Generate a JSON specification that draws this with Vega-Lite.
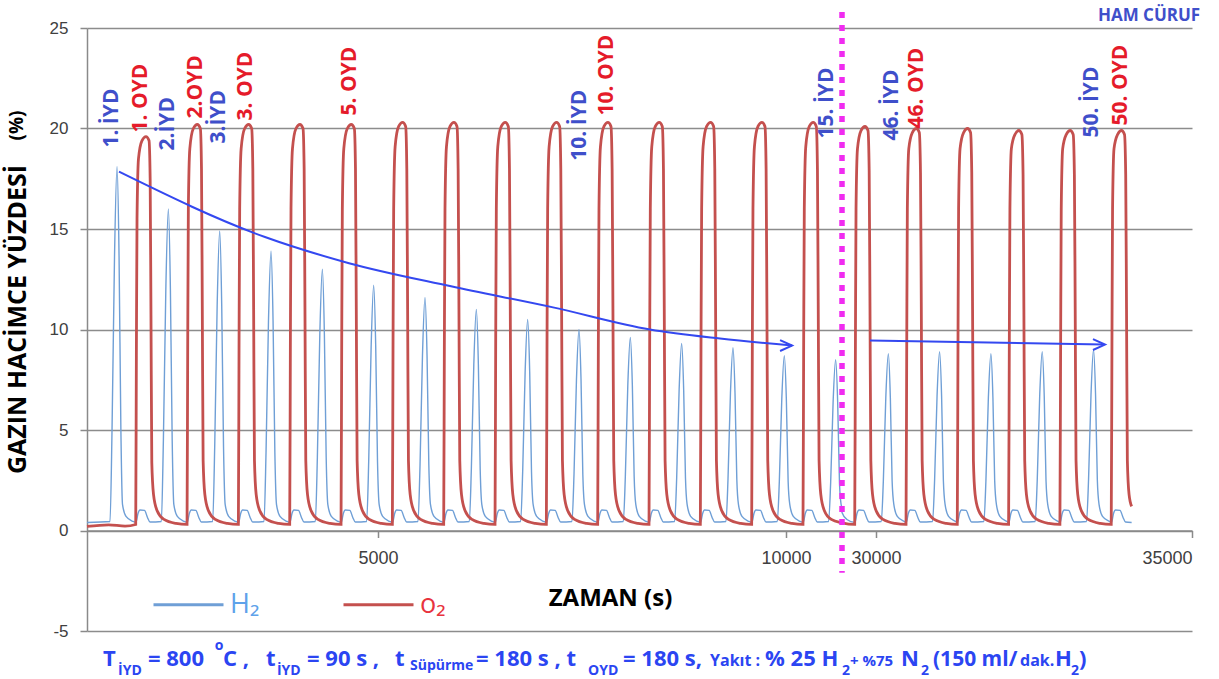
{
"$schema": "https://vega.github.io/schema/vega-lite/v6.json",
"width": 1105, "height": 603,
"autosize": {"type": "none"},
"padding": {"left": 87, "top": 28, "right": 27, "bottom": 48},
"background": "white",
"config": {"view": {"stroke": null}, "font": "Open Sans"},
"layer": [
{
"data": {"values": [
{"s":"H₂","t":1434,"v":0.4},
{"s":"H₂","t":1716,"v":0.45},{"s":"H₂","t":1741,"v":5.07},{"s":"H₂","t":1771,"v":13.58},{"s":"H₂","t":1802,"v":18.1},{"s":"H₂","t":1827,"v":13.58},{"s":"H₂","t":1849,"v":5.07},{"s":"H₂","t":1869,"v":1.3},{"s":"H₂","t":1912,"v":0.7},{"s":"H₂","t":1998,"v":0.45},
{"s":"H₂","t":2034,"v":0.4},{"s":"H₂","t":2059,"v":0.85},{"s":"H₂","t":2083,"v":1.02},{"s":"H₂","t":2139,"v":1.0},{"s":"H₂","t":2175,"v":0.65},{"s":"H₂","t":2206,"v":0.42},
{"s":"H₂","t":2345,"v":0.45},{"s":"H₂","t":2370,"v":4.48},{"s":"H₂","t":2400,"v":12.0},{"s":"H₂","t":2431,"v":16.0},{"s":"H₂","t":2456,"v":12.0},{"s":"H₂","t":2478,"v":4.48},{"s":"H₂","t":2498,"v":1.3},{"s":"H₂","t":2541,"v":0.7},{"s":"H₂","t":2627,"v":0.45},
{"s":"H₂","t":2663,"v":0.4},{"s":"H₂","t":2688,"v":0.85},{"s":"H₂","t":2712,"v":1.02},{"s":"H₂","t":2768,"v":1.0},{"s":"H₂","t":2804,"v":0.65},{"s":"H₂","t":2835,"v":0.42},
{"s":"H₂","t":2974,"v":0.45},{"s":"H₂","t":2999,"v":4.17},{"s":"H₂","t":3029,"v":11.18},{"s":"H₂","t":3060,"v":14.9},{"s":"H₂","t":3085,"v":11.18},{"s":"H₂","t":3107,"v":4.17},{"s":"H₂","t":3127,"v":1.3},{"s":"H₂","t":3170,"v":0.7},{"s":"H₂","t":3256,"v":0.45},
{"s":"H₂","t":3292,"v":0.4},{"s":"H₂","t":3317,"v":0.85},{"s":"H₂","t":3341,"v":1.02},{"s":"H₂","t":3397,"v":1.0},{"s":"H₂","t":3433,"v":0.65},{"s":"H₂","t":3464,"v":0.42},
{"s":"H₂","t":3603,"v":0.45},{"s":"H₂","t":3628,"v":3.89},{"s":"H₂","t":3658,"v":10.43},{"s":"H₂","t":3689,"v":13.9},{"s":"H₂","t":3714,"v":10.43},{"s":"H₂","t":3736,"v":3.89},{"s":"H₂","t":3756,"v":1.3},{"s":"H₂","t":3799,"v":0.7},{"s":"H₂","t":3885,"v":0.45},
{"s":"H₂","t":3921,"v":0.4},{"s":"H₂","t":3946,"v":0.85},{"s":"H₂","t":3970,"v":1.02},{"s":"H₂","t":4026,"v":1.0},{"s":"H₂","t":4062,"v":0.65},{"s":"H₂","t":4093,"v":0.42},
{"s":"H₂","t":4232,"v":0.45},{"s":"H₂","t":4257,"v":3.64},{"s":"H₂","t":4287,"v":9.75},{"s":"H₂","t":4318,"v":13.0},{"s":"H₂","t":4343,"v":9.75},{"s":"H₂","t":4365,"v":3.64},{"s":"H₂","t":4385,"v":1.3},{"s":"H₂","t":4428,"v":0.7},{"s":"H₂","t":4514,"v":0.45},
{"s":"H₂","t":4550,"v":0.4},{"s":"H₂","t":4575,"v":0.85},{"s":"H₂","t":4599,"v":1.02},{"s":"H₂","t":4655,"v":1.0},{"s":"H₂","t":4691,"v":0.65},{"s":"H₂","t":4722,"v":0.42},
{"s":"H₂","t":4861,"v":0.45},{"s":"H₂","t":4886,"v":3.42},{"s":"H₂","t":4916,"v":9.15},{"s":"H₂","t":4947,"v":12.2},{"s":"H₂","t":4972,"v":9.15},{"s":"H₂","t":4994,"v":3.42},{"s":"H₂","t":5014,"v":1.3},{"s":"H₂","t":5057,"v":0.7},{"s":"H₂","t":5143,"v":0.45},
{"s":"H₂","t":5179,"v":0.4},{"s":"H₂","t":5204,"v":0.85},{"s":"H₂","t":5228,"v":1.02},{"s":"H₂","t":5284,"v":1.0},{"s":"H₂","t":5320,"v":0.65},{"s":"H₂","t":5351,"v":0.42},
{"s":"H₂","t":5490,"v":0.45},{"s":"H₂","t":5515,"v":3.25},{"s":"H₂","t":5545,"v":8.7},{"s":"H₂","t":5576,"v":11.6},{"s":"H₂","t":5601,"v":8.7},{"s":"H₂","t":5623,"v":3.25},{"s":"H₂","t":5643,"v":1.3},{"s":"H₂","t":5686,"v":0.7},{"s":"H₂","t":5772,"v":0.45},
{"s":"H₂","t":5808,"v":0.4},{"s":"H₂","t":5833,"v":0.85},{"s":"H₂","t":5857,"v":1.02},{"s":"H₂","t":5913,"v":1.0},{"s":"H₂","t":5949,"v":0.65},{"s":"H₂","t":5980,"v":0.42},
{"s":"H₂","t":6119,"v":0.45},{"s":"H₂","t":6144,"v":3.08},{"s":"H₂","t":6174,"v":8.25},{"s":"H₂","t":6205,"v":11.0},{"s":"H₂","t":6230,"v":8.25},{"s":"H₂","t":6252,"v":3.08},{"s":"H₂","t":6272,"v":1.3},{"s":"H₂","t":6315,"v":0.7},{"s":"H₂","t":6401,"v":0.45},
{"s":"H₂","t":6437,"v":0.4},{"s":"H₂","t":6462,"v":0.85},{"s":"H₂","t":6486,"v":1.02},{"s":"H₂","t":6542,"v":1.0},{"s":"H₂","t":6578,"v":0.65},{"s":"H₂","t":6609,"v":0.42},
{"s":"H₂","t":6748,"v":0.45},{"s":"H₂","t":6773,"v":2.94},{"s":"H₂","t":6803,"v":7.88},{"s":"H₂","t":6834,"v":10.5},{"s":"H₂","t":6859,"v":7.88},{"s":"H₂","t":6881,"v":2.94},{"s":"H₂","t":6901,"v":1.3},{"s":"H₂","t":6944,"v":0.7},{"s":"H₂","t":7030,"v":0.45},
{"s":"H₂","t":7066,"v":0.4},{"s":"H₂","t":7091,"v":0.85},{"s":"H₂","t":7115,"v":1.02},{"s":"H₂","t":7171,"v":1.0},{"s":"H₂","t":7207,"v":0.65},{"s":"H₂","t":7238,"v":0.42},
{"s":"H₂","t":7377,"v":0.45},{"s":"H₂","t":7402,"v":2.8},{"s":"H₂","t":7432,"v":7.5},{"s":"H₂","t":7463,"v":10.0},{"s":"H₂","t":7488,"v":7.5},{"s":"H₂","t":7510,"v":2.8},{"s":"H₂","t":7530,"v":1.3},{"s":"H₂","t":7573,"v":0.7},{"s":"H₂","t":7659,"v":0.45},
{"s":"H₂","t":7695,"v":0.4},{"s":"H₂","t":7720,"v":0.85},{"s":"H₂","t":7744,"v":1.02},{"s":"H₂","t":7800,"v":1.0},{"s":"H₂","t":7836,"v":0.65},{"s":"H₂","t":7867,"v":0.42},
{"s":"H₂","t":8006,"v":0.45},{"s":"H₂","t":8031,"v":2.69},{"s":"H₂","t":8061,"v":7.2},{"s":"H₂","t":8092,"v":9.6},{"s":"H₂","t":8117,"v":7.2},{"s":"H₂","t":8139,"v":2.69},{"s":"H₂","t":8159,"v":1.3},{"s":"H₂","t":8202,"v":0.7},{"s":"H₂","t":8288,"v":0.45},
{"s":"H₂","t":8324,"v":0.4},{"s":"H₂","t":8349,"v":0.85},{"s":"H₂","t":8373,"v":1.02},{"s":"H₂","t":8429,"v":1.0},{"s":"H₂","t":8465,"v":0.65},{"s":"H₂","t":8496,"v":0.42},
{"s":"H₂","t":8635,"v":0.45},{"s":"H₂","t":8660,"v":2.6},{"s":"H₂","t":8690,"v":6.98},{"s":"H₂","t":8721,"v":9.3},{"s":"H₂","t":8746,"v":6.98},{"s":"H₂","t":8768,"v":2.6},{"s":"H₂","t":8788,"v":1.3},{"s":"H₂","t":8831,"v":0.7},{"s":"H₂","t":8917,"v":0.45},
{"s":"H₂","t":8953,"v":0.4},{"s":"H₂","t":8978,"v":0.85},{"s":"H₂","t":9002,"v":1.02},{"s":"H₂","t":9058,"v":1.0},{"s":"H₂","t":9094,"v":0.65},{"s":"H₂","t":9125,"v":0.42},
{"s":"H₂","t":9264,"v":0.45},{"s":"H₂","t":9289,"v":2.55},{"s":"H₂","t":9319,"v":6.83},{"s":"H₂","t":9350,"v":9.1},{"s":"H₂","t":9375,"v":6.83},{"s":"H₂","t":9397,"v":2.55},{"s":"H₂","t":9417,"v":1.3},{"s":"H₂","t":9460,"v":0.7},{"s":"H₂","t":9546,"v":0.45},
{"s":"H₂","t":9582,"v":0.4},{"s":"H₂","t":9607,"v":0.85},{"s":"H₂","t":9631,"v":1.02},{"s":"H₂","t":9687,"v":1.0},{"s":"H₂","t":9723,"v":0.65},{"s":"H₂","t":9754,"v":0.42},
{"s":"H₂","t":9893,"v":0.45},{"s":"H₂","t":9918,"v":2.44},{"s":"H₂","t":9948,"v":6.53},{"s":"H₂","t":9979,"v":8.7},{"s":"H₂","t":10004,"v":6.53},{"s":"H₂","t":10026,"v":2.44},{"s":"H₂","t":10046,"v":1.3},{"s":"H₂","t":10089,"v":0.7},{"s":"H₂","t":10175,"v":0.45},
{"s":"H₂","t":10211,"v":0.4},{"s":"H₂","t":10236,"v":0.85},{"s":"H₂","t":10260,"v":1.02},{"s":"H₂","t":10316,"v":1.0},{"s":"H₂","t":10352,"v":0.65},{"s":"H₂","t":10383,"v":0.42},
{"s":"H₂","t":10522,"v":0.45},{"s":"H₂","t":10547,"v":2.38},{"s":"H₂","t":10577,"v":6.38},{"s":"H₂","t":10608,"v":8.5},{"s":"H₂","t":10633,"v":6.38},{"s":"H₂","t":10655,"v":2.38},{"s":"H₂","t":10675,"v":1.3},{"s":"H₂","t":10686,"v":1.1},
{"s":"H₂","t":29462,"v":0.9},{"s":"H₂","t":29540,"v":0.55},
{"s":"H₂","t":29668,"v":0.4},{"s":"H₂","t":29699,"v":0.85},{"s":"H₂","t":29731,"v":1.02},{"s":"H₂","t":29802,"v":1.0},{"s":"H₂","t":29850,"v":0.65},{"s":"H₂","t":29889,"v":0.42},
{"s":"H₂","t":30084,"v":0.45},{"s":"H₂","t":30116,"v":2.46},{"s":"H₂","t":30155,"v":6.6},{"s":"H₂","t":30195,"v":8.8},{"s":"H₂","t":30227,"v":6.6},{"s":"H₂","t":30255,"v":2.46},{"s":"H₂","t":30282,"v":1.3},{"s":"H₂","t":30337,"v":0.7},{"s":"H₂","t":30448,"v":0.45},
{"s":"H₂","t":30480,"v":0.4},{"s":"H₂","t":30511,"v":0.85},{"s":"H₂","t":30543,"v":1.02},{"s":"H₂","t":30614,"v":1.0},{"s":"H₂","t":30662,"v":0.65},{"s":"H₂","t":30701,"v":0.42},
{"s":"H₂","t":30895,"v":0.45},{"s":"H₂","t":30927,"v":2.49},{"s":"H₂","t":30966,"v":6.68},{"s":"H₂","t":31006,"v":8.9},{"s":"H₂","t":31038,"v":6.68},{"s":"H₂","t":31066,"v":2.49},{"s":"H₂","t":31093,"v":1.3},{"s":"H₂","t":31148,"v":0.7},{"s":"H₂","t":31259,"v":0.45},
{"s":"H₂","t":31291,"v":0.4},{"s":"H₂","t":31322,"v":0.85},{"s":"H₂","t":31354,"v":1.02},{"s":"H₂","t":31425,"v":1.0},{"s":"H₂","t":31473,"v":0.65},{"s":"H₂","t":31512,"v":0.42},
{"s":"H₂","t":31707,"v":0.45},{"s":"H₂","t":31739,"v":2.46},{"s":"H₂","t":31778,"v":6.6},{"s":"H₂","t":31818,"v":8.8},{"s":"H₂","t":31850,"v":6.6},{"s":"H₂","t":31878,"v":2.46},{"s":"H₂","t":31905,"v":1.3},{"s":"H₂","t":31960,"v":0.7},{"s":"H₂","t":32071,"v":0.45},
{"s":"H₂","t":32103,"v":0.4},{"s":"H₂","t":32134,"v":0.85},{"s":"H₂","t":32166,"v":1.02},{"s":"H₂","t":32237,"v":1.0},{"s":"H₂","t":32285,"v":0.65},{"s":"H₂","t":32324,"v":0.42},
{"s":"H₂","t":32519,"v":0.45},{"s":"H₂","t":32551,"v":2.49},{"s":"H₂","t":32590,"v":6.68},{"s":"H₂","t":32630,"v":8.9},{"s":"H₂","t":32662,"v":6.68},{"s":"H₂","t":32690,"v":2.49},{"s":"H₂","t":32717,"v":1.3},{"s":"H₂","t":32772,"v":0.7},{"s":"H₂","t":32883,"v":0.45},
{"s":"H₂","t":32915,"v":0.4},{"s":"H₂","t":32946,"v":0.85},{"s":"H₂","t":32978,"v":1.02},{"s":"H₂","t":33049,"v":1.0},{"s":"H₂","t":33097,"v":0.65},{"s":"H₂","t":33136,"v":0.42},
{"s":"H₂","t":33331,"v":0.45},{"s":"H₂","t":33363,"v":2.52},{"s":"H₂","t":33402,"v":6.75},{"s":"H₂","t":33442,"v":9.0},{"s":"H₂","t":33474,"v":6.75},{"s":"H₂","t":33502,"v":2.52},{"s":"H₂","t":33529,"v":1.3},{"s":"H₂","t":33584,"v":0.7},{"s":"H₂","t":33695,"v":0.45},
{"s":"H₂","t":33727,"v":0.4},{"s":"H₂","t":33758,"v":0.85},{"s":"H₂","t":33790,"v":1.02},{"s":"H₂","t":33861,"v":1.0},{"s":"H₂","t":33909,"v":0.65},{"s":"H₂","t":33948,"v":0.42},{"s":"H₂","t":34045,"v":0.4},

{"s":"o₂","t":1434,"v":0.2},{"s":"o₂","t":1700,"v":0.28},{"s":"o₂","t":1900,"v":0.22},
{"s":"o₂","t":2031,"v":0.3},{"s":"o₂","t":2039,"v":8.7},{"s":"o₂","t":2047,"v":15.5},{"s":"o₂","t":2065,"v":18.5},{"s":"o₂","t":2108,"v":19.4},{"s":"o₂","t":2157,"v":19.6},{"s":"o₂","t":2194,"v":19.4},{"s":"o₂","t":2208,"v":17.5},{"s":"o₂","t":2218,"v":10.7},{"s":"o₂","t":2228,"v":3.4},{"s":"o₂","t":2249,"v":1.8},{"s":"o₂","t":2292,"v":1.0},{"s":"o₂","t":2378,"v":0.55},{"s":"o₂","t":2525,"v":0.35},
{"s":"o₂","t":2660,"v":0.3},{"s":"o₂","t":2668,"v":9},{"s":"o₂","t":2676,"v":16},{"s":"o₂","t":2694,"v":19},{"s":"o₂","t":2737,"v":20.0},{"s":"o₂","t":2786,"v":20.2},{"s":"o₂","t":2823,"v":20.0},{"s":"o₂","t":2837,"v":18},{"s":"o₂","t":2847,"v":11},{"s":"o₂","t":2857,"v":3.5},{"s":"o₂","t":2878,"v":1.8},{"s":"o₂","t":2921,"v":1.0},{"s":"o₂","t":3007,"v":0.55},{"s":"o₂","t":3154,"v":0.35},
{"s":"o₂","t":3289,"v":0.3},{"s":"o₂","t":3297,"v":9},{"s":"o₂","t":3305,"v":16},{"s":"o₂","t":3323,"v":19},{"s":"o₂","t":3366,"v":20.0},{"s":"o₂","t":3415,"v":20.2},{"s":"o₂","t":3452,"v":20.0},{"s":"o₂","t":3466,"v":18},{"s":"o₂","t":3476,"v":11},{"s":"o₂","t":3486,"v":3.5},{"s":"o₂","t":3507,"v":1.8},{"s":"o₂","t":3550,"v":1.0},{"s":"o₂","t":3636,"v":0.55},{"s":"o₂","t":3783,"v":0.35},
{"s":"o₂","t":3918,"v":0.3},{"s":"o₂","t":3926,"v":9},{"s":"o₂","t":3934,"v":16},{"s":"o₂","t":3952,"v":19},{"s":"o₂","t":3995,"v":20.0},{"s":"o₂","t":4044,"v":20.2},{"s":"o₂","t":4081,"v":20.0},{"s":"o₂","t":4095,"v":18},{"s":"o₂","t":4105,"v":11},{"s":"o₂","t":4115,"v":3.5},{"s":"o₂","t":4136,"v":1.8},{"s":"o₂","t":4179,"v":1.0},{"s":"o₂","t":4265,"v":0.55},{"s":"o₂","t":4412,"v":0.35},
{"s":"o₂","t":4547,"v":0.3},{"s":"o₂","t":4555,"v":9},{"s":"o₂","t":4563,"v":16},{"s":"o₂","t":4581,"v":19},{"s":"o₂","t":4624,"v":20.0},{"s":"o₂","t":4673,"v":20.2},{"s":"o₂","t":4710,"v":20.0},{"s":"o₂","t":4724,"v":18},{"s":"o₂","t":4734,"v":11},{"s":"o₂","t":4744,"v":3.5},{"s":"o₂","t":4765,"v":1.8},{"s":"o₂","t":4808,"v":1.0},{"s":"o₂","t":4894,"v":0.55},{"s":"o₂","t":5041,"v":0.35},
{"s":"o₂","t":5176,"v":0.3},{"s":"o₂","t":5184,"v":9},{"s":"o₂","t":5192,"v":16},{"s":"o₂","t":5210,"v":19.1},{"s":"o₂","t":5253,"v":20.1},{"s":"o₂","t":5302,"v":20.3},{"s":"o₂","t":5339,"v":20.1},{"s":"o₂","t":5353,"v":18},{"s":"o₂","t":5363,"v":11},{"s":"o₂","t":5373,"v":3.5},{"s":"o₂","t":5394,"v":1.8},{"s":"o₂","t":5437,"v":1.0},{"s":"o₂","t":5523,"v":0.55},{"s":"o₂","t":5670,"v":0.35},
{"s":"o₂","t":5805,"v":0.3},{"s":"o₂","t":5813,"v":9},{"s":"o₂","t":5821,"v":16},{"s":"o₂","t":5839,"v":19.1},{"s":"o₂","t":5882,"v":20.1},{"s":"o₂","t":5931,"v":20.3},{"s":"o₂","t":5968,"v":20.1},{"s":"o₂","t":5982,"v":18},{"s":"o₂","t":5992,"v":11},{"s":"o₂","t":6002,"v":3.5},{"s":"o₂","t":6023,"v":1.8},{"s":"o₂","t":6066,"v":1.0},{"s":"o₂","t":6152,"v":0.55},{"s":"o₂","t":6299,"v":0.35},
{"s":"o₂","t":6434,"v":0.3},{"s":"o₂","t":6442,"v":9},{"s":"o₂","t":6450,"v":16},{"s":"o₂","t":6468,"v":19.1},{"s":"o₂","t":6511,"v":20.1},{"s":"o₂","t":6560,"v":20.3},{"s":"o₂","t":6597,"v":20.1},{"s":"o₂","t":6611,"v":18},{"s":"o₂","t":6621,"v":11},{"s":"o₂","t":6631,"v":3.5},{"s":"o₂","t":6652,"v":1.8},{"s":"o₂","t":6695,"v":1.0},{"s":"o₂","t":6781,"v":0.55},{"s":"o₂","t":6928,"v":0.35},
{"s":"o₂","t":7063,"v":0.3},{"s":"o₂","t":7071,"v":9},{"s":"o₂","t":7079,"v":16},{"s":"o₂","t":7097,"v":19.1},{"s":"o₂","t":7140,"v":20.1},{"s":"o₂","t":7189,"v":20.3},{"s":"o₂","t":7226,"v":20.1},{"s":"o₂","t":7240,"v":18},{"s":"o₂","t":7250,"v":11},{"s":"o₂","t":7260,"v":3.5},{"s":"o₂","t":7281,"v":1.8},{"s":"o₂","t":7324,"v":1.0},{"s":"o₂","t":7410,"v":0.55},{"s":"o₂","t":7557,"v":0.35},
{"s":"o₂","t":7692,"v":0.3},{"s":"o₂","t":7700,"v":9},{"s":"o₂","t":7708,"v":16},{"s":"o₂","t":7726,"v":19.1},{"s":"o₂","t":7769,"v":20.1},{"s":"o₂","t":7818,"v":20.3},{"s":"o₂","t":7855,"v":20.1},{"s":"o₂","t":7869,"v":18},{"s":"o₂","t":7879,"v":11},{"s":"o₂","t":7889,"v":3.5},{"s":"o₂","t":7910,"v":1.8},{"s":"o₂","t":7953,"v":1.0},{"s":"o₂","t":8039,"v":0.55},{"s":"o₂","t":8186,"v":0.35},
{"s":"o₂","t":8321,"v":0.3},{"s":"o₂","t":8329,"v":9},{"s":"o₂","t":8337,"v":16},{"s":"o₂","t":8355,"v":19.1},{"s":"o₂","t":8398,"v":20.1},{"s":"o₂","t":8447,"v":20.3},{"s":"o₂","t":8484,"v":20.1},{"s":"o₂","t":8498,"v":18},{"s":"o₂","t":8508,"v":11},{"s":"o₂","t":8518,"v":3.5},{"s":"o₂","t":8539,"v":1.8},{"s":"o₂","t":8582,"v":1.0},{"s":"o₂","t":8668,"v":0.55},{"s":"o₂","t":8815,"v":0.35},
{"s":"o₂","t":8950,"v":0.3},{"s":"o₂","t":8958,"v":9},{"s":"o₂","t":8966,"v":16},{"s":"o₂","t":8984,"v":19.1},{"s":"o₂","t":9027,"v":20.1},{"s":"o₂","t":9076,"v":20.3},{"s":"o₂","t":9113,"v":20.1},{"s":"o₂","t":9127,"v":18},{"s":"o₂","t":9137,"v":11},{"s":"o₂","t":9147,"v":3.5},{"s":"o₂","t":9168,"v":1.8},{"s":"o₂","t":9211,"v":1.0},{"s":"o₂","t":9297,"v":0.55},{"s":"o₂","t":9444,"v":0.35},
{"s":"o₂","t":9579,"v":0.3},{"s":"o₂","t":9587,"v":9},{"s":"o₂","t":9595,"v":16},{"s":"o₂","t":9613,"v":19.1},{"s":"o₂","t":9656,"v":20.1},{"s":"o₂","t":9705,"v":20.3},{"s":"o₂","t":9742,"v":20.1},{"s":"o₂","t":9756,"v":18},{"s":"o₂","t":9766,"v":11},{"s":"o₂","t":9776,"v":3.5},{"s":"o₂","t":9797,"v":1.8},{"s":"o₂","t":9840,"v":1.0},{"s":"o₂","t":9926,"v":0.55},{"s":"o₂","t":10073,"v":0.35},
{"s":"o₂","t":10208,"v":0.3},{"s":"o₂","t":10216,"v":9},{"s":"o₂","t":10224,"v":16},{"s":"o₂","t":10242,"v":19.1},{"s":"o₂","t":10285,"v":20.1},{"s":"o₂","t":10334,"v":20.3},{"s":"o₂","t":10371,"v":20.1},{"s":"o₂","t":10385,"v":18},{"s":"o₂","t":10395,"v":11},{"s":"o₂","t":10405,"v":3.5},{"s":"o₂","t":10426,"v":1.8},{"s":"o₂","t":10469,"v":1.0},{"s":"o₂","t":10555,"v":0.55},{"s":"o₂","t":10686,"v":0.38},
{"s":"o₂","t":29462,"v":0.38},
{"s":"o₂","t":29663,"v":0.3},{"s":"o₂","t":29674,"v":9},{"s":"o₂","t":29684,"v":16},{"s":"o₂","t":29707,"v":19},{"s":"o₂","t":29763,"v":19.9},{"s":"o₂","t":29826,"v":20.1},{"s":"o₂","t":29873,"v":19.9},{"s":"o₂","t":29892,"v":17.9},{"s":"o₂","t":29905,"v":11},{"s":"o₂","t":29918,"v":3.5},{"s":"o₂","t":29945,"v":1.8},{"s":"o₂","t":30000,"v":1.0},{"s":"o₂","t":30111,"v":0.55},{"s":"o₂","t":30301,"v":0.35},
{"s":"o₂","t":30475,"v":0.3},{"s":"o₂","t":30486,"v":9},{"s":"o₂","t":30496,"v":16},{"s":"o₂","t":30519,"v":19},{"s":"o₂","t":30575,"v":19.8},{"s":"o₂","t":30638,"v":20.0},{"s":"o₂","t":30685,"v":19.8},{"s":"o₂","t":30704,"v":17.8},{"s":"o₂","t":30717,"v":11},{"s":"o₂","t":30730,"v":3.5},{"s":"o₂","t":30757,"v":1.8},{"s":"o₂","t":30812,"v":1.0},{"s":"o₂","t":30923,"v":0.55},{"s":"o₂","t":31113,"v":0.35},
{"s":"o₂","t":31286,"v":0.3},{"s":"o₂","t":31297,"v":9},{"s":"o₂","t":31307,"v":16},{"s":"o₂","t":31330,"v":19},{"s":"o₂","t":31386,"v":19.8},{"s":"o₂","t":31449,"v":20.0},{"s":"o₂","t":31496,"v":19.8},{"s":"o₂","t":31515,"v":17.8},{"s":"o₂","t":31528,"v":11},{"s":"o₂","t":31541,"v":3.5},{"s":"o₂","t":31568,"v":1.8},{"s":"o₂","t":31623,"v":1.0},{"s":"o₂","t":31734,"v":0.55},{"s":"o₂","t":31924,"v":0.35},
{"s":"o₂","t":32098,"v":0.3},{"s":"o₂","t":32109,"v":9},{"s":"o₂","t":32119,"v":16},{"s":"o₂","t":32142,"v":19},{"s":"o₂","t":32198,"v":19.7},{"s":"o₂","t":32261,"v":19.9},{"s":"o₂","t":32308,"v":19.7},{"s":"o₂","t":32327,"v":17.7},{"s":"o₂","t":32340,"v":11},{"s":"o₂","t":32353,"v":3.5},{"s":"o₂","t":32380,"v":1.8},{"s":"o₂","t":32435,"v":1.0},{"s":"o₂","t":32546,"v":0.55},{"s":"o₂","t":32736,"v":0.35},
{"s":"o₂","t":32910,"v":0.3},{"s":"o₂","t":32921,"v":9},{"s":"o₂","t":32931,"v":16},{"s":"o₂","t":32954,"v":19},{"s":"o₂","t":33010,"v":19.7},{"s":"o₂","t":33073,"v":19.9},{"s":"o₂","t":33120,"v":19.7},{"s":"o₂","t":33139,"v":17.7},{"s":"o₂","t":33152,"v":11},{"s":"o₂","t":33165,"v":3.5},{"s":"o₂","t":33192,"v":1.8},{"s":"o₂","t":33247,"v":1.0},{"s":"o₂","t":33358,"v":0.55},{"s":"o₂","t":33548,"v":0.35},
{"s":"o₂","t":33722,"v":0.3},{"s":"o₂","t":33733,"v":9},{"s":"o₂","t":33743,"v":16},{"s":"o₂","t":33766,"v":19},{"s":"o₂","t":33822,"v":19.7},{"s":"o₂","t":33885,"v":19.9},{"s":"o₂","t":33932,"v":19.7},{"s":"o₂","t":33951,"v":17.7},{"s":"o₂","t":33964,"v":11},{"s":"o₂","t":33977,"v":3.5},{"s":"o₂","t":34004,"v":1.8},{"s":"o₂","t":34045,"v":1.2}
]},
"mark": {"type": "line", "interpolate": "monotone"},
"encoding": {
"x": {"field": "t", "type": "quantitative",
 "scale": {"domain": [1434, 10686, 29462, 35000], "range": [0, 755, 755, 1105], "nice": false, "zero": false},
 "axis": {"values": [5000, 10000, 30000, 35000], "format": "d", "offset": -100.5,
  "title": "ZAMAN (s)", "titleFont": "Open Sans", "titleFontSize": 24, "titleFontWeight": "bold", "titleColor": "#000000",
  "titleX": 523, "titleY": 68, "titleAlign": "center", "titleBaseline": "middle", "titleAnchor": null,
  "labelFont": "Liberation Sans", "labelFontSize": 18, "labelColor": "#404040", "labelPadding": 12,
  "tickSize": 7, "tickColor": "#8a8a8a", "tickWidth": 1.5, "domainColor": "#8a8a8a", "domainWidth": 1.5, "grid": false}},
"y": {"field": "v", "type": "quantitative",
 "scale": {"domain": [-5, 25], "nice": false, "zero": false},
 "axis": {"values": [-5, 0, 5, 10, 15, 20, 25], "labelExpr": "'' + datum.value",
  "title": "GAZIN HACİMCE YÜZDESİ", "titleFont": "Open Sans", "titleFontSize": 25, "titleFontWeight": "bold", "titleColor": "#000000",
  "titleAngle": 270, "titleX": -70, "titleY": 291, "titleAlign": "center", "titleBaseline": "middle",
  "labelFont": "Liberation Sans", "labelFontSize": 17, "labelColor": "#404040", "labelPadding": 12,
  "tickSize": 7, "tickColor": "#8a8a8a", "tickWidth": 1.5, "domainColor": "#8a8a8a", "domainWidth": 1.5,
  "grid": true, "gridColor": "#8c8c8c", "gridWidth": 1.5}},
"color": {"field": "s", "type": "nominal",
 "scale": {"domain": ["H₂", "o₂"], "range": ["#6f9fd6", "#c4504e"]},
 "legend": {"orient": "none", "legendX": 65, "legendY": 540, "direction": "horizontal", "title": null,
  "symbolType": "stroke", "symbolSize": 4900, "symbolStrokeWidth": 3, "labelFont": "Open Sans", "labelFontSize": 27,
  "labelOffset": 5, "columnPadding": 77,
  "encode": {"labels": {"update": {"fontSize": {"value": 27}, "fill": {"signal": "datum.value === 'H₂' ? '#5ea2ea' : '#e8333e'"}}},
             "symbols": {"update": {"strokeWidth": {"value": 3}}}}}},
"strokeWidth": {"condition": {"test": "datum.s === 'o₂'", "value": 2.8}, "value": 1.4}
}
},
{
"data": {"values": [
{"t":1826,"v":17.85},{"t":3615,"v":14.6},{"t":4645,"v":13.3},{"t":5895,"v":12.15},{"t":7145,"v":11.1},{"t":8333,"v":10.0},{"t":9191,"v":9.55},{"t":10074,"v":9.2}
]},
"mark": {"type": "line", "interpolate": "monotone", "color": "#3448f0", "strokeWidth": 2},
"encoding": {"x": {"field": "t", "type": "quantitative"}, "y": {"field": "v", "type": "quantitative"}}
},
{
"data": {"values": [{"t":29905,"v":9.45},{"t":33600,"v":9.25}]},
"mark": {"type": "line", "color": "#3448f0", "strokeWidth": 2},
"encoding": {"x": {"field": "t", "type": "quantitative"}, "y": {"field": "v", "type": "quantitative"}}
},
{
"data": {"values": [{"t":10074,"v":9.2},{"t":33623,"v":9.25}]},
"mark": {"type": "point", "shape": "M-1,-0.45L0,0L-1,0.45", "filled": false, "stroke": "#3448f0", "strokeWidth": 2, "size": 576, "opacity": 1},
"encoding": {"x": {"field": "t", "type": "quantitative"}, "y": {"field": "v", "type": "quantitative"}}
},
{
"data": {"values": [
{"text":"1. İYD","t":1740,"v":19.05,"k":"b"},
{"text":"1. OYD","t":2096,"v":19.8,"k":"r"},
{"text":"2.İYD","t":2426,"v":18.9,"k":"b"},
{"text":"2.OYD","t":2770,"v":20.5,"k":"r"},
{"text":"3.İYD","t":3051,"v":19.25,"k":"b"},
{"text":"3. OYD","t":3382,"v":20.4,"k":"r"},
{"text":"5. OYD","t":4657,"v":20.65,"k":"r"},
{"text":"10. İYD","t":7476,"v":18.4,"k":"b"},
{"text":"10. OYD","t":7806,"v":20.65,"k":"r"},
{"text":"15. İYD","t":10502,"v":19.5,"k":"b"},
{"text":"46. İYD","t":30253,"v":19.4,"k":"b"},
{"text":"46. OYD","t":30649,"v":20.0,"k":"r"},
{"text":"50. İYD","t":33418,"v":19.55,"k":"b"},
{"text":"50. OYD","t":33877,"v":20.15,"k":"r"}
]},
"mark": {"type": "text", "angle": 270, "align": "left", "baseline": "middle", "font": "Open Sans", "fontSize": 21, "fontWeight": "bold"},
"encoding": {"x": {"field": "t", "type": "quantitative"}, "y": {"field": "v", "type": "quantitative"},
 "text": {"field": "text"},
 "color": {"condition": {"test": "datum.k === 'b'", "value": "#3f4fca"}, "value": "#e51b2a"}}
},
{
"data": {"values": [
{"text":"T","t":1630,"v":-6.72,"g":"m"},
{"text":"İYD","t":1814,"v":-7.2,"g":"s"},
{"text":"= 800","t":2181,"v":-6.72,"g":"m"},
{"text":"o","t":3000,"v":-5.95,"g":"s"},
{"text":"C ,","t":3100,"v":-6.72,"g":"m"},
{"text":"t","t":3627,"v":-6.72,"g":"m"},
{"text":"İYD","t":3762,"v":-7.2,"g":"s"},
{"text":"= 90 s  ,","t":4130,"v":-6.72,"g":"m"},
{"text":"t","t":5208,"v":-6.72,"g":"m"},
{"text":"Süpürme","t":5392,"v":-6.95,"g":"s"},
{"text":"= 180 s  , t","t":6201,"v":-6.72,"g":"m"},
{"text":"OYD","t":7574,"v":-7.2,"g":"s"},
{"text":"= 180 s,","t":8003,"v":-6.72,"g":"m"},
{"text":"Yakıt :","t":9069,"v":-6.72,"g":"k"},
{"text":"% 25 H","t":9743,"v":-6.72,"g":"m"},
{"text":"2","t":29462,"v":-7.2,"g":"s"},
{"text":"+ %75","t":29589,"v":-6.72,"g":"k2"},
{"text":"N","t":30396,"v":-6.72,"g":"m"},
{"text":"2","t":30712,"v":-7.2,"g":"s"},
{"text":"(150 ml/","t":30902,"v":-6.72,"g":"m2"},
{"text":"dak.","t":32279,"v":-6.72,"g":"k"},
{"text":"H","t":32832,"v":-6.72,"g":"m"},
{"text":"2","t":33085,"v":-7.2,"g":"s"},
{"text":")","t":33212,"v":-6.72,"g":"m"}
]},
"mark": {"type": "text", "align": "left", "baseline": "alphabetic", "font": "Open Sans", "fontWeight": "bold", "color": "#2b45f2"},
"encoding": {"x": {"field": "t", "type": "quantitative"}, "y": {"field": "v", "type": "quantitative"},
 "text": {"field": "text"},
 "size": {"condition": [{"test": "datum.g === 's'", "value": 14}, {"test": "datum.g === 'k'", "value": 16}, {"test": "datum.g === 'k2'", "value": 15}, {"test": "datum.g === 'm2'", "value": 21}], "value": 22}}
},
{
"data": {"values": [{"text":"HAM CÜRUF","t":34320,"v":25.6},{"text":"(%)","t":576,"v":20.15}]},
"mark": {"type": "text", "font": "Open Sans", "fontWeight": "bold", "baseline": "middle", "align": "center"},
"encoding": {"x": {"field": "t", "type": "quantitative"}, "y": {"field": "v", "type": "quantitative"},
 "text": {"field": "text"},
 "angle": {"condition": {"test": "datum.text === '(%)'", "value": 270}, "value": 0},
 "size": {"condition": {"test": "datum.text === '(%)'", "value": 19}, "value": 17},
 "color": {"condition": {"test": "datum.text === '(%)'", "value": "#000000"}, "value": "#3f4fca"}}
},
{
"data": {"values": [{}]},
"mark": {"type": "rule", "color": "#f02cf0", "strokeWidth": 5.5, "strokeDash": [6, 7]},
"encoding": {"x": {"datum": 10686}, "y": {"datum": 25.8}, "y2": {"datum": -2.1}}
}
]
}
